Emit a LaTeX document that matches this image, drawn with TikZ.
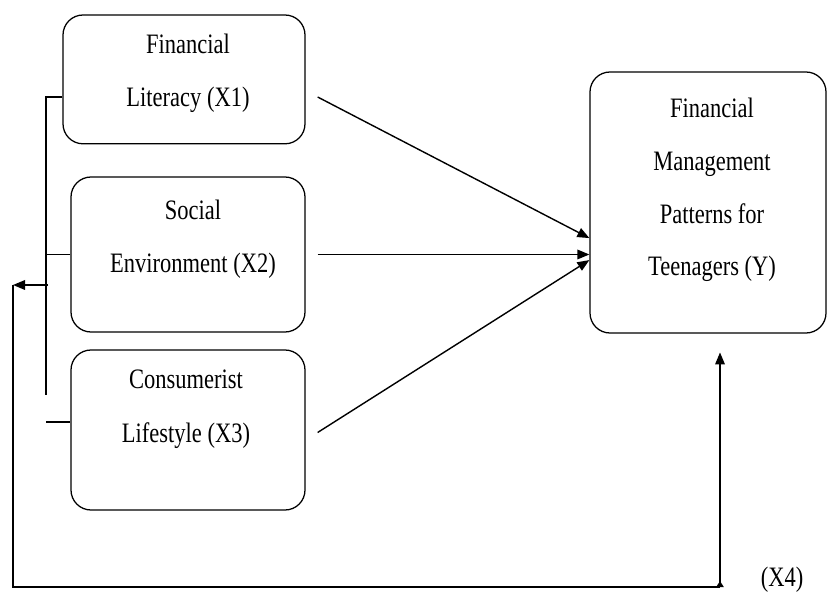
\documentclass[tikz,border=0pt]{standalone}
\usepackage{fontspec}
\setmainfont{Liberation Serif}[FakeStretch=0.8]
\usetikzlibrary{arrows.meta}

\begin{document}
\begin{tikzpicture}[
	varbox/.style={draw, line width=0.9pt, rounded corners=0.5cm},
	vartext/.style={align=center, font=\fontsize{20}{38}\selectfont},
	arr/.style={line width=1pt, -{Triangle[length=3mm, width=2.4mm]}},
	link/.style={line width=1pt}
]
	\useasboundingbox (0,0) rectangle (20.675,14.925);

	\node[varbox, minimum width=6.05cm, minimum height=3.22cm]  (x1) at ( 4.6, 12.94) {};
	\node[varbox, minimum width=5.85cm, minimum height=3.875cm] (x2) at ( 4.7, 8.5625) {};
	\node[varbox, minimum width=5.85cm, minimum height=4.0cm]   (x3) at ( 4.7, 4.175) {};
	\node[varbox, minimum width=5.9cm,  minimum height=6.525cm] (y)  at (17.7, 9.8625) {};

	\node[vartext] (x1txt) at ( 4.7,  13.1)   {Financial\\Literacy (X1)};
	\node[vartext] (x2txt) at ( 4.825, 8.95)  {Social\\Environment (X2)};
	\node[vartext] (x3txt) at ( 4.65,  4.69)  {Consumerist\\Lifestyle (X3)};
	\node[vartext, font=\fontsize{20}{37.5}\selectfont] (ytxt) at (17.8, 10.175) {Financial\\Management\\Patterns for\\Teenagers (Y)};
	\node[font=\fontsize{20}{22}\selectfont] (x4) at (19.55, 0.425) {(X4)};

	% arrows into Y
	\draw[arr] ([shift={(0.3,-0.44)}]x1.east) -- ([yshift=-0.89cm]y.west);
	\draw[arr] ([xshift=0.3cm]x2.east)        -- (x2.east -| y.west);
	\draw[arr] ([shift={(0.3,-4.45)}]x2.east) -- ([yshift=-1.44cm]y.west);

	% bracket on the left
	\coordinate (bt) at (1.15, 12.5);
	\coordinate (bb) at (1.15, 5.05);
	\coordinate (bk) at (1.15, 4.375);
	\coordinate (fb) at (1.2,  7.8);
	\coordinate (fl) at (0.325, 7.8);
	\coordinate (fd) at (0.325, 0.25);
	\coordinate (fr) at (18.0, 0.25);

	\draw[link] (bt -| x1.west) -- (bt) -- (bb);
	\draw[link] (x2.west) -- (x2.west -| bt);
	\draw[link] (bk) -- (bk -| x3.west);
	\draw[arr]  (fb) -- (fl);
	\draw[link] (fl) -- (fd) -- (fr);
	\draw[link, {Triangle[length=1.5mm, width=1.8mm, reversed]}-{Triangle[length=3mm, width=2.4mm]}] (fr) -- ([yshift=-0.47cm]y.south -| fr);
\end{tikzpicture}
\end{document}
